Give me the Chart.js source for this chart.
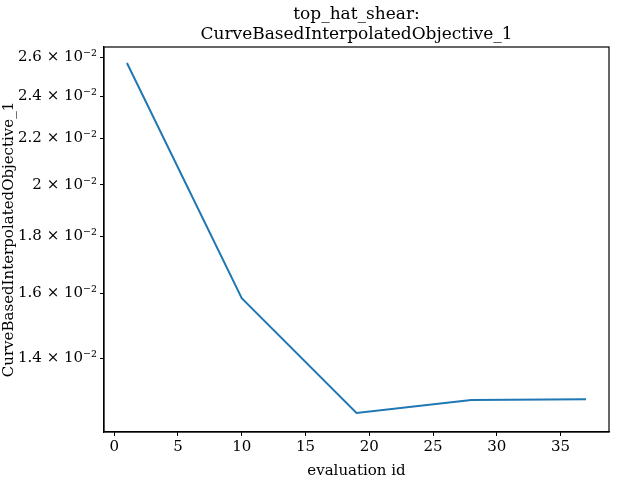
<!DOCTYPE html>
<html>
<head>
<meta charset="utf-8">
<script src="https://cdn.jsdelivr.net/npm/chart.js@4"></script>
<style>
  body { margin: 0; background: #fff; }
  #wrap { width: 640px; height: 480px; }
</style>
</head>
<body>
<div id="wrap"><canvas id="chart"></canvas></div>
<script>
const evalIds = [1, 10, 19, 28, 37];
const objective = [0.02568, 0.01585, 0.01252, 0.01286, 0.01288];
const xTicks = [0, 5, 10, 15, 20, 25, 30, 35];
const yTicks = [0.014, 0.016, 0.018, 0.020, 0.022, 0.024, 0.026];
const titleLines = ["top_hat_shear:", "CurveBasedInterpolatedObjective_1"];

const font = "'DejaVu Serif', 'Liberation Serif', serif";
const sup = { "-": "\u207B", "0": "\u2070", "1": "\u00B9", "2": "\u00B2", "3": "\u00B3" };

function sciLabel(v) {
  const e = Math.floor(Math.log10(v) + 1e-9);
  const m = (v / Math.pow(10, e)).toFixed(1).replace(/\.0$/, "");
  const exp = String(e).split("").map(c => sup[c] || c).join("");
  return m + " \u00D7 10" + exp;
}

const titlePlugin = {
  id: "twoLineTitle",
  afterDraw(chart) {
    const ctx = chart.ctx;
    const area = chart.chartArea;
    const cx = (area.left + area.right) / 2;
    ctx.save();
    ctx.fillStyle = "#000";
    ctx.font = "17px " + font;
    ctx.textAlign = "center";
    ctx.textBaseline = "alphabetic";
    ctx.fillText(titleLines[0], cx, 19);
    ctx.fillText(titleLines[1], cx, 39);
    ctx.restore();
  }
};

const tickGrid = { display: true, drawOnChartArea: false, drawTicks: true, tickLength: 4, color: "#000", lineWidth: 1 };

new Chart(document.getElementById("chart"), {
  type: "line",
  data: {
    datasets: [{
      data: evalIds.map((x, i) => ({ x, y: objective[i] })),
      borderColor: "#1f77b4",
      borderWidth: 2,
      pointRadius: 0,
      tension: 0
    }]
  },
  options: {
    responsive: true,
    maintainAspectRatio: false,
    animation: false,
    layout: { padding: { top: 47, right: 31, left: 0, bottom: 0 } },
    plugins: { legend: { display: false }, tooltip: { enabled: false } },
    scales: {
      x: {
        type: "linear",
        min: -0.8,
        max: 38.8,
        afterBuildTicks: s => { s.ticks = xTicks.map(v => ({ value: v })); },
        afterFit: s => { s.height = 48; },
        grid: tickGrid,
        border: { color: "#000", width: 1.2 },
        ticks: { color: "#000", font: { family: font, size: 15 }, maxRotation: 0, padding: 2 },
        title: { display: true, text: "evaluation id", color: "#000", font: { family: font, size: 15 }, padding: 0 }
      },
      y: {
        type: "logarithmic",
        min: 0.01204,
        max: 0.02654,
        afterBuildTicks: s => { s.ticks = yTicks.map(v => ({ value: v })); },
        afterFit: s => { s.width = 104; },
        grid: tickGrid,
        border: { color: "#000", width: 1.2 },
        ticks: { color: "#000", font: { family: font, size: 15 }, callback: v => sciLabel(v), padding: 3 },
        title: { display: true, text: "CurveBasedInterpolatedObjective_1", color: "#000", font: { family: font, size: 15 }, padding: 0 }
      }
    }
  },
  plugins: [titlePlugin, {
    id: "box",
    afterDraw(chart) {
      const { ctx, chartArea: a } = chart;
      ctx.save();
      ctx.strokeStyle = "#000";
      ctx.lineWidth = 1.2;
      ctx.strokeRect(a.left, a.top, a.right - a.left, a.bottom - a.top);
      ctx.restore();
    }
  }]
});
</script>
</body>
</html>
